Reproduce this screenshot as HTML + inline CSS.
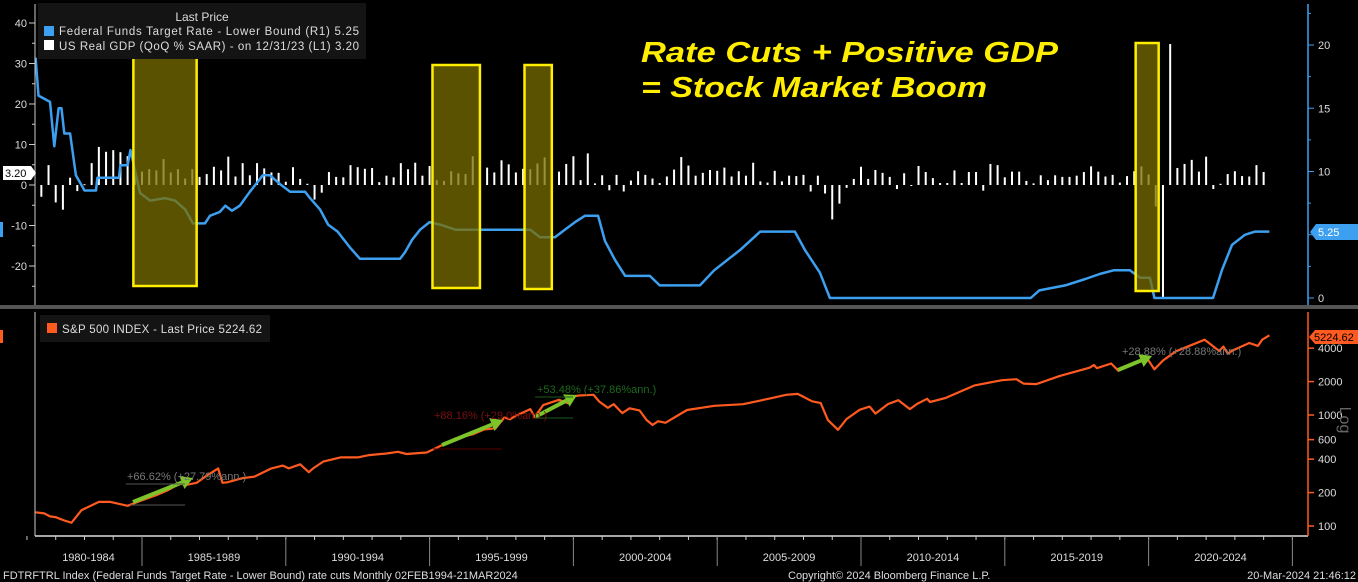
<!DOCTYPE html>
<html><head><meta charset="utf-8">
<style>
html,body{margin:0;padding:0;background:#000;width:1358px;height:582px;overflow:hidden}
svg{display:block;font-family:"Liberation Sans",sans-serif}
</style></head>
<body>
<svg id="chart" width="1358" height="582" viewBox="0 0 1358 582" xmlns="http://www.w3.org/2000/svg">
<rect x="0" y="0" width="1358" height="582" fill="#000"/>
<g id="g-boxes"></g>
<g id="g-gdp"></g>
<g id="g-fed"></g>
<g id="g-spx"></g>
<g id="g-axes"></g>
<g id="g-ann"></g>
</svg>
<script>
// ---- data ----
const fedYears=[1981.3,1981.4,1981.8,1981.95,1982.1,1982.2,1982.3,1982.5,1982.7,1983.0,1983.4,1983.45,1984.2,1984.25,1984.5,1984.6,1984.93,1985.28,1985.8,1986.15,1986.5,1986.77,1987.19,1987.36,1987.7,1987.9,1988.13,1988.4,1988.75,1988.96,1989.2,1989.45,1989.8,1990.15,1990.67,1990.84,1991.19,1991.47,1991.8,1992.23,1992.58,1993.97,1994.14,1994.39,1994.67,1995.0,1995.36,1995.9,1998.5,1998.84,1999.36,1999.7,2000.06,2000.4,2000.86,2001.1,2001.45,2001.8,2002.66,2003.0,2004.4,2004.9,2005.8,2006.5,2007.7,2008.05,2008.57,2008.92,2015.9,2016.2,2017.1,2017.8,2018.3,2018.8,2019.35,2019.7,2020.05,2020.2,2022.24,2022.55,2022.9,2023.35,2023.7,2024.2];
const fedRates=[19,16,15.5,12,15,15,13,13,9.7,8.5,8.5,9.5,9.5,10.5,10.5,11.7,8.3,7.7,7.9,7.7,7,5.9,5.9,6.5,6.8,7.3,6.9,7.3,8.4,9,9.7,9.7,9,8.4,8.4,7.9,7,5.8,5.25,4,3.1,3.1,3.6,4.6,5.4,6,5.8,5.4,5.4,4.8,4.8,5.4,6,6.5,6.5,4.5,3,1.75,1.75,1,1,2.2,3.8,5.25,5.25,3.8,2,0,0,0.6,1,1.5,1.9,2.2,2.2,1.6,1.6,0,0,2.2,4.2,5,5.25,5.25];
const gdpStartYear=1981.5; // first bar = 1981 Q2 (quarter end)
const gdpValues=[-2.9,4.9,-4.3,
-6.1,1.8,-1.5,0.2, 5.4,9.4,8.2,8.6, 8.1,7.1,3.9,3.3, 3.9,3.6,6.4,3.1, 3.9,1.6,3.9,2.0, 2.7,4.5,3.6,7.0, 2.1,5.4,2.4,5.4, 4.1,3.1,3.0,0.8,
4.4,1.5,0.3,-3.6, -1.9,3.2,2.0,1.9, 4.9,4.4,4.0,4.2, 0.7,2.3,1.9,5.4, 3.9,5.5,2.3,4.7, 1.2,1.0,3.4,2.9, 2.7,7.1,3.6,4.3, 3.1,6.1,5.1,3.1, 4.0,3.9,5.3,6.8, 3.6,3.3,5.2,7.1,
1.2,7.8,0.4,2.4, -1.3,2.5,-1.6,1.1, 3.4,2.5,1.6,0.5, 2.1,3.8,6.9,4.8, 2.3,3.0,3.7,3.5, 4.3,2.1,3.4,2.3, 5.5,0.9,0.6,3.5, 0.9,2.3,2.2,2.5, -1.6,2.3,-2.1,-8.5, -4.6,-0.7,1.5,4.5,
1.5,3.7,3.0,2.0, -1.0,2.9,-0.1,4.7, 3.2,1.7,0.5,0.5, 3.6,0.5,3.2,3.2, -1.4,5.2,4.9,1.9, 3.3,3.3,1.0,0.4, 2.4,1.2,2.4,2.0, 2.0,2.3,3.2,4.6, 3.3,2.1,2.5,0.6, 2.2,3.4,4.6,2.6,
-5.3,-28.0,34.8,4.2, 5.2,6.2,3.3,7.0, -1.0,0.3,2.7,3.4, 2.2,2.1,4.9,3.2];
const spxYears=[1981.3,1981.6,1981.8,1982.0,1982.3,1982.55,1982.7,1982.9,1983.5,1983.9,1984.5,1984.9,1985.5,1985.9,1986.3,1986.6,1986.9,1987.3,1987.65,1987.8,1987.95,1988.5,1988.9,1989.5,1989.9,1990.1,1990.5,1990.8,1990.95,1991.3,1991.9,1992.5,1992.9,1993.5,1993.9,1994.2,1994.9,1995.5,1995.9,1996.5,1996.9,1997.3,1997.6,1997.8,1997.95,1998.5,1998.65,1998.95,1999.5,1999.8,1999.95,2000.2,2000.7,2000.9,2001.2,2001.4,2001.7,2001.95,2002.3,2002.55,2002.75,2002.95,2003.2,2003.95,2004.9,2005.9,2006.9,2007.4,2007.8,2008.3,2008.6,2008.85,2009.2,2009.5,2009.95,2010.3,2010.5,2010.95,2011.3,2011.7,2011.95,2012.3,2012.4,2012.95,2013.95,2014.9,2015.4,2015.65,2016.1,2016.9,2017.95,2018.1,2018.2,2018.7,2018.95,2019.5,2019.95,2020.2,2020.5,2020.95,2021.95,2022.45,2022.6,2022.75,2022.95,2023.5,2023.8,2023.95,2024.2];
const spxValues=[133,130,122,120,112,107,120,139,165,165,152,167,190,210,240,236,245,290,330,245,247,270,278,330,350,330,360,305,330,380,415,415,435,450,466,445,459,545,615,670,740,760,950,915,970,1130,960,1229,1370,1280,1469,1500,1520,1320,1160,1250,1040,1148,1100,900,815,880,850,1110,1210,1250,1420,1520,1550,1330,1280,900,735,920,1115,1190,1030,1258,1360,1130,1258,1400,1310,1426,1848,2060,2100,1920,1900,2240,2670,2820,2640,2910,2500,2980,3230,2580,3100,3750,4770,3780,4130,3580,3840,4450,4190,4770,5225];
const leftTicks=[40,30,20,10,0,-10,-20];
const rightTicks=[20,15,10,0];
const logTicks=[4000,2000,1000,600,400,200,100];
const periodLabels=["1980-1984","1985-1989","1990-1994","1995-1999","2000-2004","2005-2009","2010-2014","2015-2019","2020-2024"];
const periodStarts=[1980,1985,1990,1995,2000,2005,2010,2015,2020];
const cutStarts=[1984.7,1995.1,1998.3,2019.55];
const cutEnds=[1986.9,1996.75,1999.25,2020.35];

// ---- axis functions ----
const X0=35,X1=1308;
const xOf=y=>142+(y-1985)*28.76;
const yL=v=>185-4.05*v;
const yR=v=>298-12.65*v;
const yS=v=>526-111*Math.log10(v/100);
const NS="http://www.w3.org/2000/svg";
function mk(tag,attrs,parent,txt){const e=document.createElementNS(NS,tag);for(const k in attrs)e.setAttribute(k,attrs[k]);if(txt!==undefined)e.textContent=txt;parent.appendChild(e);return e;}
const gB=document.getElementById('g-boxes'),gG=document.getElementById('g-gdp'),gF=document.getElementById('g-fed'),gS=document.getElementById('g-spx'),gA=document.getElementById('g-axes'),gN=document.getElementById('g-ann');

gdpValues.forEach((v,i)=>{const x=xOf(gdpStartYear+i*0.25);const y0=yL(0),y1=yL(v);
 const r=mk('rect',{x:x-1,y:Math.min(y0,y1),width:2,height:Math.max(1,Math.abs(y1-y0)),fill:'#fff'},gG);
 
 });

let d='';fedYears.forEach((yr,i)=>{d+=(i?'L':'M')+xOf(yr).toFixed(1)+','+yR(fedRates[i]).toFixed(1);});
const fl=mk('path',{d:d,fill:'none',stroke:'#3d9ff0','stroke-width':2.5,'stroke-linejoin':'round'},gF);



const boxTops=[39,65,65,43],boxBots=[286,288,289,291];
cutStarts.forEach((s,i)=>{const x=xOf(s),w=xOf(cutEnds[i])-x;
 const b=mk('rect',{x:x,y:boxTops[i],width:w,height:boxBots[i]-boxTops[i],fill:'rgba(120,110,0,0.75)',stroke:'#ffee00','stroke-width':2.5},gN);
 
 });

let d2='';spxYears.forEach((yr,i)=>{d2+=(i?'L':'M')+xOf(yr).toFixed(1)+','+yS(spxValues[i]).toFixed(1);});
const sl=mk('path',{d:d2,fill:'none',stroke:'#ff5a1f','stroke-width':2.2,'stroke-linejoin':'round'},gS);



mk('line',{x1:X0,y1:4,x2:X0,y2:305,stroke:'#ccc','stroke-width':1},gA);
mk('line',{x1:X1,y1:4,x2:X1,y2:305,stroke:'#3d9ff0','stroke-width':1.5},gA);
mk('rect',{x:0,y:305,width:1358,height:4,fill:'#555'},gA);
mk('line',{x1:X0,y1:312,x2:X0,y2:536,stroke:'#ccc','stroke-width':1},gA);
mk('line',{x1:X0,y1:536,x2:X1,y2:536,stroke:'#ddd','stroke-width':1.5},gA);
mk('line',{x1:X1,y1:312,x2:X1,y2:536,stroke:'#ff5a1f','stroke-width':1.5},gA);
for(let v=40;v>=-25;v-=5){mk('line',{x1:X0-(v%10?3:6),y1:yL(v),x2:X0,y2:yL(v),stroke:'#ccc'},gA);}
leftTicks.forEach(v=>{const t=mk('text',{x:X0-8,y:yL(v)+4,fill:'#ddd','font-size':11,'text-anchor':'end'},gA,String(v));
 
 });
for(let v=0;v<=22.5;v+=2.5){mk('line',{x1:X1,y1:yR(v),x2:X1+(v%5?3:6),y2:yR(v),stroke:'#3d9ff0'},gA);}
rightTicks.forEach(v=>{const t=mk('text',{x:X1+10,y:yR(v)+4,fill:'#ddd','font-size':11},gA,String(v));
 
 });
logTicks.forEach(v=>{mk('line',{x1:X1,y1:yS(v),x2:X1+6,y2:yS(v),stroke:'#ff5a1f','stroke-width':1.5},gA);
 const t=mk('text',{x:X1+10,y:yS(v)+4,fill:'#ddd','font-size':11},gA,String(v));
 
 });
for(let yr=1981;yr<=2025;yr++){mk('line',{x1:xOf(yr),y1:536,x2:xOf(yr),y2:540,stroke:'#ccc'},gA);}
periodStarts.forEach((p,i)=>{const xs=xOf(p);if(i>0)mk('line',{x1:xs,y1:536,x2:xs,y2:566,stroke:'#888'},gA);
 const a=Math.max(X0,xs),b=Math.min(X1,xOf(p+5));
 const t=mk('text',{x:(a+b)/2,y:561,fill:'#ddd','font-size':11,'text-anchor':'middle'},gA,periodLabels[i]);
 
 });
mk('line',{x1:xOf(2025),y1:536,x2:xOf(2025),y2:566,stroke:'#888'},gA);

const arrows=[[133,502,193,478],[442,445,503,420],[535,417,577,395],[1118,370,1152,356]];
arrows.forEach(a=>{const [x1,y1,x2,y2]=a;const ang=Math.atan2(y2-y1,x2-x1);
 const bx=x2-12*Math.cos(ang),by=y2-12*Math.sin(ang);
 const g=mk('g',{},gN);
 
 
 mk('line',{x1:x1,y1:y1,x2:bx,y2:by,stroke:'#7cc42a','stroke-width':4},g);
 const px=-Math.sin(ang)*7,py=Math.cos(ang)*7;
 mk('polygon',{points:`${x2},${y2} ${bx+px},${by+py} ${bx-px},${by-py}`,fill:'#7cc42a'},g);});
</script>
<svg style="position:absolute;left:0;top:0" width="1358" height="582" xmlns="http://www.w3.org/2000/svg" font-family="Liberation Sans, sans-serif">
<g>
<rect x="38" y="3" width="328" height="56" fill="#141414"/>
<text x="202" y="21" fill="#ddd" font-size="12" text-anchor="middle">Last Price</text>
<rect x="44" y="26" width="10" height="10" fill="#3d9ff0"/>
<text x="59" y="35" fill="#ddd" font-size="11.5" textLength="300">Federal Funds Target Rate - Lower Bound  (R1)   5.25</text>
<rect x="44" y="40" width="10" height="10" fill="#fff"/>
<text x="59" y="50" fill="#ddd" font-size="11.5" textLength="300">US Real GDP (QoQ % SAAR) -  on 12/31/23  (L1) 3.20</text>
</g>
<g>
<rect x="40" y="315" width="230" height="27" fill="#141414"/>
<rect x="47" y="323" width="10" height="10" fill="#ff5a1f"/>
<text x="62" y="333" fill="#ddd" font-size="11.5" textLength="200">S&amp;P 500 INDEX - Last Price 5224.62</text>
</g>
<g fill="#ffee00" font-weight="bold" font-style="italic" font-size="29">
<text x="641" y="62" textLength="417" lengthAdjust="spacingAndGlyphs">Rate Cuts + Positive GDP</text>
<text x="641" y="97" textLength="346" lengthAdjust="spacingAndGlyphs">= Stock Market Boom</text>
</g>
<g>
<polygon points="3,166 31,166 36,173 31,180 3,180" fill="#fff"/>
<text x="5" y="177" fill="#000" font-size="11">3.20</text>
</g>
<rect x="0" y="222" width="3" height="15" fill="#3d9ff0"/>
<rect x="0" y="330" width="3" height="13" fill="#ff5a1f"/>
<g>
<polygon points="1310,232 1316,224 1358,224 1358,240 1316,240" fill="#3d9ff0"/>
<text x="1318" y="236" fill="#fff" font-size="11">5.25</text>
</g>
<g>
<polygon points="1309,337 1315,330 1358,330 1358,344 1315,344" fill="#ff5a1f"/>
<text x="1314" y="341" fill="#000" font-size="11">5224.62</text>
</g>
<text x="1340" y="420" fill="#666" font-size="16" transform="rotate(90 1340 420)" text-anchor="middle">Log</text>
<g font-size="11">
<text x="127" y="480" fill="#777">+66.62% (+27.79%ann.)</text>
<line x1="126" y1="484" x2="185" y2="484" stroke="#555"/><line x1="130" y1="505" x2="185" y2="505" stroke="#555"/>
<text x="434" y="419" fill="#7a1010">+88.16% (+29.0%ann.)</text>
<line x1="433" y1="449" x2="502" y2="449" stroke="#5a0000"/>
<text x="537" y="393" fill="#1d6a1d">+53.48% (+37.86%ann.)</text>
<line x1="535" y1="397" x2="573" y2="397" stroke="#1d5a1d"/><line x1="535" y1="418" x2="573" y2="418" stroke="#1d5a1d"/>
<text x="1122" y="355" fill="#777">+28.88% (+28.88%ann.)</text>
</g>
<g font-size="11" fill="#ddd">
<text x="3" y="579">FDTRFTRL Index (Federal Funds Target Rate - Lower Bound) rate cuts  Monthly 02FEB1994-21MAR2024</text>
<text x="788" y="579">Copyright© 2024 Bloomberg Finance L.P.</text>
<text x="1356" y="579" text-anchor="end">20-Mar-2024 21:46:12</text>
</g>
</svg>
</body></html>
